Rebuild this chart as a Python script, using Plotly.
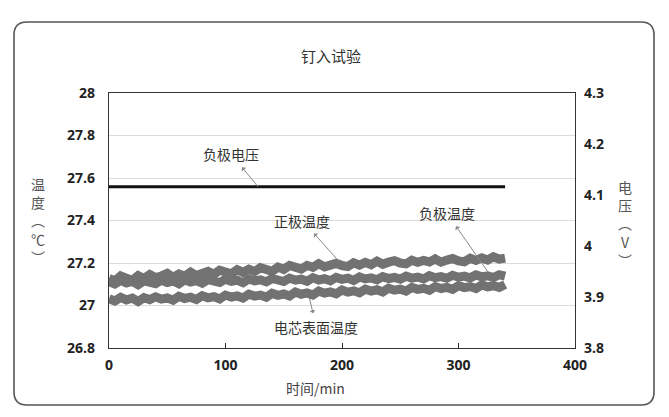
import plotly.graph_objects as go

# ---------------- data ----------------
time_min = list(range(0, 341, 5))  # sampling times (min)

pos_temp = [27.128, 27.116, 27.139, 27.124, 27.118, 27.141, 27.127, 27.146, 27.131, 27.139,
            27.151, 27.132, 27.148, 27.138, 27.157, 27.141, 27.152, 27.161, 27.147, 27.166,
            27.158, 27.149, 27.169, 27.156, 27.171, 27.160, 27.178, 27.165, 27.161, 27.181,
            27.170, 27.188, 27.176, 27.171, 27.189, 27.180, 27.197, 27.182, 27.190, 27.199,
            27.188, 27.183, 27.201, 27.190, 27.203, 27.192, 27.209, 27.194, 27.204, 27.211,
            27.200, 27.196, 27.213, 27.203, 27.212, 27.205, 27.219, 27.204, 27.214, 27.221,
            27.210, 27.206, 27.222, 27.212, 27.224, 27.214, 27.229, 27.218, 27.223]

neg_temp = [27.112, 27.101, 27.118, 27.106, 27.114, 27.098, 27.116, 27.109, 27.103, 27.119,
            27.108, 27.115, 27.102, 27.121, 27.110, 27.117, 27.105, 27.122, 27.113, 27.108,
            27.124, 27.114, 27.119, 27.107, 27.125, 27.116, 27.121, 27.111, 27.127, 27.118,
            27.113, 27.129, 27.119, 27.124, 27.114, 27.131, 27.120, 27.126, 27.116, 27.132,
            27.123, 27.129, 27.118, 27.134, 27.125, 27.130, 27.121, 27.136, 27.127, 27.132,
            27.124, 27.138, 27.129, 27.134, 27.125, 27.140, 27.131, 27.136, 27.128, 27.142,
            27.133, 27.138, 27.130, 27.144, 27.135, 27.140, 27.132, 27.145, 27.138]

cell_temp = [27.032, 27.021, 27.038, 27.026, 27.035, 27.019, 27.037, 27.028, 27.041, 27.030,
             27.036, 27.025, 27.043, 27.033, 27.039, 27.028, 27.046, 27.036, 27.042, 27.031,
             27.049, 27.040, 27.045, 27.035, 27.053, 27.044, 27.049, 27.039, 27.058, 27.048,
             27.054, 27.045, 27.063, 27.053, 27.059, 27.049, 27.068, 27.058, 27.064, 27.055,
             27.073, 27.063, 27.069, 27.060, 27.077, 27.068, 27.074, 27.064, 27.081, 27.072,
             27.077, 27.068, 27.085, 27.076, 27.081, 27.072, 27.089, 27.080, 27.085, 27.076,
             27.093, 27.084, 27.089, 27.080, 27.097, 27.088, 27.093, 27.085, 27.099]

volt_time = [0, 340]
neg_voltage = [4.116, 4.116]

x_ticks = [0, 100, 200, 300, 400]
y_left_ticks = [26.8, 27, 27.2, 27.4, 27.6, 27.8, 28]
y_right_ticks = [3.8, 3.9, 4.0, 4.1, 4.2, 4.3]

title_text = "钉入试验"
x_title = "时间/min"

# ---------------- figure ----------------
OFF = 8                      # page body margin
W, H = 669 - OFF, 417 - OFF
L, R, T, B = 109, 575, 93, 348  # plot area in window px

CJK = "Noto Sans CJK SC"
band_color = "#727272"

fig = go.Figure()
for ys in (cell_temp, neg_temp, pos_temp):
    fig.add_trace(go.Scatter(x=time_min, y=ys, mode="lines",
                             line=dict(color=band_color, width=9),
                             showlegend=False, hoverinfo="skip"))
fig.add_trace(go.Scatter(x=volt_time, y=neg_voltage, mode="lines", yaxis="y2",
                         line=dict(color="#111111", width=3),
                         showlegend=False, hoverinfo="skip"))

tickfont = dict(family="Open Sans", size=14, color="#222", weight="bold")

fig.update_layout(
    width=W, height=H,
    margin=dict(l=L - OFF, r=W - (R - OFF), t=T - OFF, b=H - (B - OFF), pad=0),
    paper_bgcolor="white", plot_bgcolor="white",
    xaxis=dict(range=[0, 400], tickvals=x_ticks, ticks="inside", ticklen=5,
               tickcolor="#333", showgrid=False, zeroline=False,
               showline=True, linecolor="#333", linewidth=1.3, mirror=True,
               tickfont=tickfont, ticklabelstandoff=4),
    yaxis=dict(range=[26.8, 28], tickvals=y_left_ticks, showgrid=True,
               gridcolor="#dcdcdc", gridwidth=1, zeroline=False,
               showline=True, linecolor="#333", linewidth=1.3, mirror=True,
               tickfont=tickfont, ticklabelstandoff=10),
    yaxis2=dict(range=[3.8, 4.3], tickvals=y_right_ticks, overlaying="y",
                side="right", showgrid=False, zeroline=False, showline=False,
                tickfont=tickfont, ticklabelstandoff=8),
)

def px2paper(px, py):
    return (px - L) / (R - L), (B - py) / (B - T)

# rounded border
x0, y0 = px2paper(14, 405)
x1, y1 = px2paper(654, 22)
rx = 13 / (R - L)
ry = 13 / (B - T)
path = (f"M {x0+rx},{y1} L {x1-rx},{y1} Q {x1},{y1} {x1},{y1-ry} "
        f"L {x1},{y0+ry} Q {x1},{y0} {x1-rx},{y0} "
        f"L {x0+rx},{y0} Q {x0},{y0} {x0},{y0+ry} "
        f"L {x0},{y1-ry} Q {x0},{y1} {x0+rx},{y1} Z")
fig.add_shape(type="path", path=path, xref="paper", yref="paper",
              line=dict(color="#555", width=1.6), layer="below")

txtfont = dict(family=CJK, size=14, color="#333")

def add_text(px, py, text, size=14, color="#333"):
    xp, yp = px2paper(px, py)
    fig.add_annotation(x=xp, y=yp, xref="paper", yref="paper", text=text,
                       xanchor="center", yanchor="middle",
                       showarrow=False, font=dict(family=CJK, size=size, color=color))

add_text(331, 55, title_text, size=15)
add_text(315, 388, x_title, size=14, color="#444")
add_text(38, 220, "温<br>度<br>︵<br>℃<br>︶", size=14, color="#555")
add_text(625, 223, "电<br>压<br>︵<br>V<br>︶", size=14, color="#555")

def label_arrow(x, y, ax, ay, text, yref="y"):
    fig.add_annotation(x=x, y=y, ax=ax, ay=ay, xref="x", yref=yref,
                       axref="x", ayref=yref, text=text, showarrow=True,
                       arrowside="start", arrowhead=2, arrowsize=1,
                       arrowwidth=1, arrowcolor="#888", standoff=0,
                       startstandoff=2, font=txtfont)

label_arrow(128, 4.116, 105, 4.18, "负极电压", yref="y2")
label_arrow(197, 27.21, 166, 27.40, "正极温度")
label_arrow(325, 27.16, 290, 27.435, "负极温度")
label_arrow(172, 27.035, 178, 26.90, "电芯表面温度")

fig.write_html("out.html")
